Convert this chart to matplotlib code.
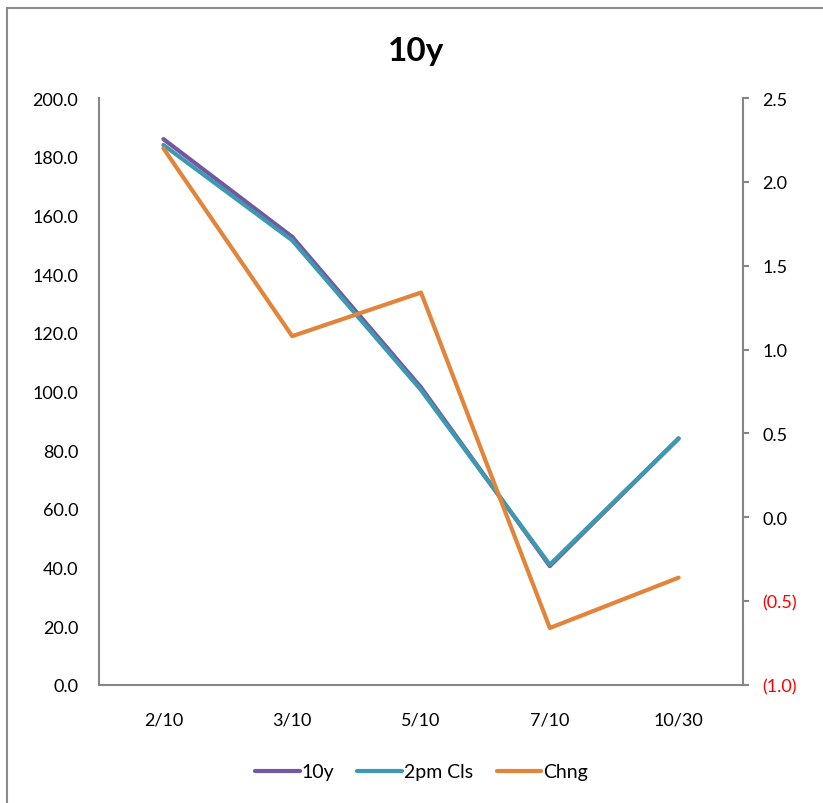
import matplotlib.pyplot as plt
from matplotlib.patches import Rectangle
from matplotlib.ticker import FuncFormatter, MultipleLocator

dates = ["2/10", "3/10", "5/10", "7/10", "10/30"]
y10 = [186.0, 152.7, 101.4, 40.5, 84.0]
cls2pm = [184.0, 151.5, 100.5, 41.0, 84.0]
chng = [2.20, 1.08, 1.34, -0.66, -0.36]

plt.rcParams["font.family"] = ["Lato", "DejaVu Sans"]

fig = plt.figure(figsize=(8.23, 8.04), dpi=100)
# okvir oko grafikona (desna i donja ivica su van slike)
fig.patches.append(Rectangle((7 / 823, -0.5), 2.0, 1.5 - 9 / 804,
                             transform=fig.transFigure, fill=False,
                             edgecolor="#8c8c8c", linewidth=1.5))

ax = fig.add_axes([99 / 823, 1 - 686 / 804, 644 / 823, 587 / 804])
ax2 = ax.twinx()

x = range(len(dates))
l1, = ax.plot(x, y10, color="#7357a0", linewidth=3, solid_capstyle="round", label="10y")
l2, = ax.plot(x, cls2pm, color="#3d98b1", linewidth=3, solid_capstyle="round", label="2pm Cls")
l3, = ax2.plot(x, chng, color="#e2843a", linewidth=3, solid_capstyle="round", label="Chng")

ax.set_xlim(-0.5, 4.5)
ax.set_ylim(0, 200)
ax2.set_ylim(-1.0, 2.5)
ax.yaxis.set_major_locator(MultipleLocator(20))
ax2.yaxis.set_major_locator(MultipleLocator(0.5))
ax.yaxis.set_major_formatter(FuncFormatter(lambda v, p: f"{v:.1f}"))
ax2.yaxis.set_major_formatter(FuncFormatter(lambda v, p: f"({abs(v):.1f})" if v < 0 else f"{v:.1f}"))
ax.set_xticks(list(x))
ax.set_xticklabels(dates)

for a in (ax, ax2):
    a.spines["top"].set_visible(False)
    for s in ("left", "right", "bottom"):
        a.spines[s].set_color("#868686")
        a.spines[s].set_linewidth(1.5)
ax.spines["right"].set_visible(False)
ax2.spines["left"].set_visible(False)
ax2.spines["bottom"].set_visible(False)

ax.tick_params(axis="x", length=0, pad=19, labelsize=13)
ax.tick_params(axis="y", length=0, pad=15, labelsize=13)
ax2.tick_params(axis="y", length=4, width=1.5, color="#868686", pad=10, labelsize=13)
for t, v in zip(ax2.get_yticklabels(), ax2.get_yticks()):
    if v < 0:
        t.set_color("red")

fig.text(0.505, 1 - 52 / 804, "10y", ha="center", va="center", fontsize=24, fontweight="bold")

fig.legend(handles=[l1, l2, l3], loc="center", bbox_to_anchor=(0.512, 1 - 773 / 804),
           ncol=3, frameon=False, fontsize=14, handlelength=2.3, handletextpad=0.1,
           columnspacing=1.2)

fig.savefig("out.png", dpi=100)
